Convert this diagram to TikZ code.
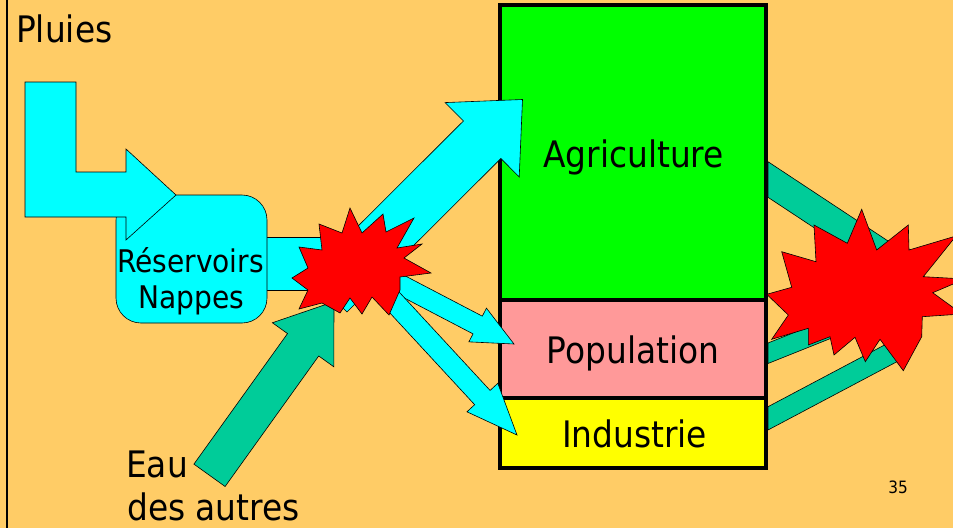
\documentclass[tikz,border=0pt]{standalone}
\usepackage{fontspec}
\setmainfont{DejaVu Sans Condensed}
\usetikzlibrary{calc}
\definecolor{bg}{HTML}{FFCC66}
\definecolor{cy}{HTML}{00FFFF}
\definecolor{tealflow}{HTML}{00CC99}
\definecolor{agric}{HTML}{00FF00}
\definecolor{popc}{HTML}{FF9999}
\definecolor{indc}{HTML}{FFFF00}
\definecolor{boom}{HTML}{FF0000}
% block arrow: #1 style, #2 tail, #3 tip, #4 half shaft, #5 half head, #6 head length
\newcommand\blockarr[6]{%
  \coordinate (ba-t) at #2;
  \coordinate (ba-h) at #3;
  \coordinate (ba-n) at ($(ba-h)!#6!(ba-t)$);
  \filldraw[#1] ($(ba-t)!#4!90:(ba-h)$) -- ($(ba-n)!#4!-90:(ba-t)$) -- ($(ba-n)!#5!-90:(ba-t)$) -- (ba-h) -- ($(ba-n)!#5!90:(ba-t)$) -- ($(ba-n)!#4!90:(ba-t)$) -- ($(ba-t)!#4!-90:(ba-h)$) -- cycle;
}
\begin{document}
\begin{tikzpicture}[x=1pt,y=-1pt,
  flow/.style={fill=cy, draw=black, line width=0.6pt, line join=miter},
  inflow/.style={fill=tealflow, draw=black, line width=0.6pt, line join=miter},
  burst/.style={fill=boom, draw=black, line width=0.6pt, line join=miter},
  secbox/.style={draw=black, line width=3.5pt, inner sep=0, minimum width=266pt},
  lbl/.style={inner sep=0, font=\fontsize{36.5}{42}\selectfont},
  smalllbl/.style={inner sep=0, font=\fontsize{31.2}{36}\selectfont},
  numlbl/.style={inner sep=0, font=\fontsize{17}{20}\selectfont}]
\clip (0,0) rectangle (953,528);
\fill[bg] (0,0) rectangle (953,528);
\draw[line width=2pt] (7,0) -- (7,528);

% bar from reservoirs to burst
\filldraw[flow] (260,237) rectangle (340,290);
% reservoirs box
\node[flow, rounded corners=25pt, minimum width=151pt, minimum height=128pt, inner sep=0] (reserv) at (191.5,259) {};
% rain arrow
\filldraw[flow] (25,82) -- (76,82) -- (76,172) -- (126,172) -- (126,149) -- (176,195) -- (126,240) -- (126,217) -- (25,217) -- cycle;

% main box
\node[secbox, fill=agric, minimum height=295pt] (agri) at (633,152.5) {};
\node[secbox, fill=popc, minimum height=98pt] (popu) at (633,349) {};
\node[secbox, fill=indc, minimum height=70pt] (indu) at (633,433) {};

% outgoing teal bands
\filldraw[inflow] (768,161.7) -- (895,245.6) -- (895,281.2) -- (768,197.3) -- cycle;
\filldraw[inflow] (768,343) -- (850,310.2) -- (850,330.7) -- (768,363.5) -- cycle;
\filldraw[inflow] (768,406.7) -- (906,333.6) -- (906,356.9) -- (768,430) -- cycle;

% cyan arrows
\blockarr{flow}{(328.25,293.25)}{(522.5,99.5)}{26.5pt}{52.5pt}{57pt}
\blockarr{flow}{(380,274)}{(514,344)}{10pt}{19pt}{41pt}
\blockarr{flow}{(370,276)}{(517,435)}{10.5pt}{21pt}{51pt}
% eau des autres arrow
\blockarr{inflow}{(209.5,475.3)}{(334,301.7)}{19.2pt}{37.8pt}{53pt}

% burst 1
\filldraw[burst] (350,208) -- (362,233) -- (383,214) -- (386,232) -- (414,218) -- (397,248) -- (422,244) -- (404,258) -- (431,273) -- (400,277) -- (400,290) -- (389,315) -- (372,297) -- (362,314) -- (350,298) -- (340,313) -- (322,303) -- (299,309) -- (308,290) -- (292,278) -- (308,268) -- (299,247) -- (322,250) -- (319,224) -- (342,233) -- cycle;
% burst 2
\filldraw[burst] (861.7,209.3) -- (876.7,250) -- (908.3,225) -- (909,250) -- (956,236) -- (923.3,276.7) -- (965,279) -- (932.7,292.7) -- (962,314) -- (922.3,316.7) -- (921.7,336.7) -- (903.3,370.7) -- (880,339.3) -- (865.3,361.7) -- (855,337.3) -- (834,355) -- (830,336.7) -- (808.3,345) -- (808.3,328.3) -- (771.7,339.3) -- (788.3,315) -- (766.7,294.3) -- (791.7,287.3) -- (781.7,251.7) -- (816,261.7) -- (814,225) -- (847.3,243.3) -- cycle;

% labels
\node[lbl, anchor=base west] (pluies) at (16,42) {Pluies};
\node[smalllbl, anchor=base] (reservtxt) at (190.5,272) {Réservoirs};
\node[smalllbl, anchor=base] (nappestxt) at (191.5,308) {Nappes};
\node[lbl, anchor=base] (agritxt) at (633.5,167) {Agriculture};
\node[lbl, anchor=base] (poputxt) at (633,363) {Population};
\node[lbl, anchor=base] (indutxt) at (634.5,447) {Industrie};
\node[lbl, anchor=base west] (eau) at (126,477) {Eau};
\node[lbl, anchor=base west] (autres) at (127,520) {des autres};
\node[numlbl, anchor=base] (pagenum) at (898,493) {35};
\end{tikzpicture}
\end{document}
